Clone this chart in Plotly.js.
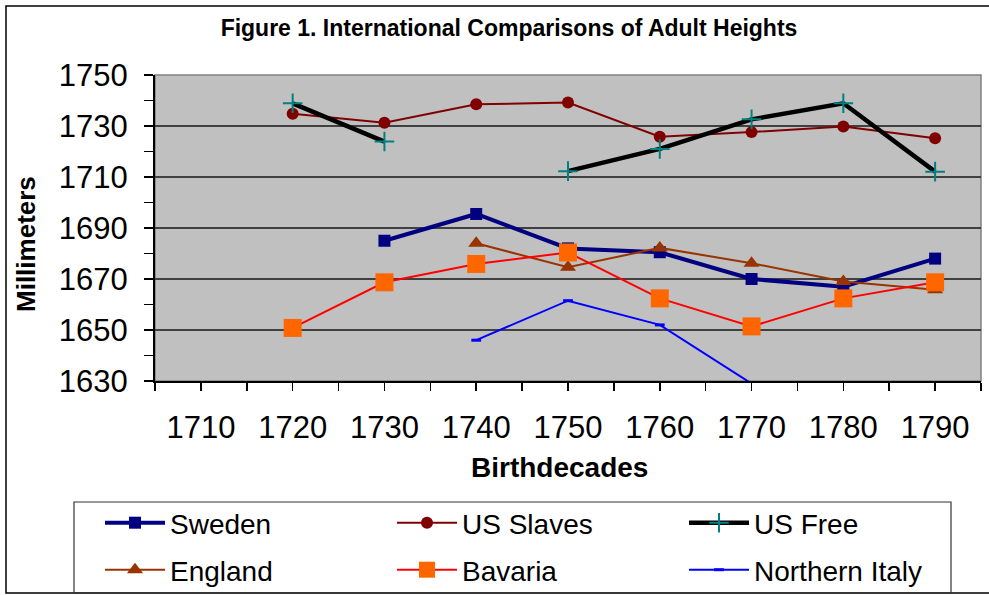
<!DOCTYPE html>
<html>
<head>
<meta charset="utf-8">
<script src="https://cdn.plot.ly/plotly-3.0.1.min.js"></script>
<style>html,body{margin:0;padding:0;background:#fff;}#chart{width:989px;height:595px;}</style>
</head>
<body>
<div id="chart"></div>
<script>
// ---- data ----
const decades = [1720, 1730, 1740, 1750, 1760, 1770, 1780, 1790];
const sweden = [null, 1685, 1695.5, 1682, 1680.5, 1670, 1667, 1678];
const usSlaves = [1734.8, 1731.3, 1738.5, 1739.2, 1725.8, 1727.6, 1729.8, 1725.2];
const usFree = [1738.9, 1723.9, null, 1712.3, 1721, 1732.6, 1738.9, 1712.1];
const england = [null, null, 1684, 1674.6, 1682.2, 1676.2, 1669, 1665.8];
const bavaria = [1650.8, 1668.7, 1675.9, 1680.4, 1662.4, 1651.4, 1662.4, 1668.7];
const northernItaly = [null, null, 1646, 1661.5, 1652, 1629, 1620, null];
const seriesNames = ['Sweden', 'US Slaves', 'US Free', 'England', 'Bavaria', 'Northern Italy'];
const xTickLabels = ['1710', '1720', '1730', '1740', '1750', '1760', '1770', '1780', '1790'];
const yTickLabels = ['1630', '1650', '1670', '1690', '1710', '1730', '1750'];

const FONT = 'Liberation Sans, Arial, sans-serif';

const traces = [
  {name: seriesNames[0], x: decades, y: sweden, legend: 'legend',
   line: {color: '#000080', width: 4}, marker: {symbol: 'square', size: 12, color: '#000080'}},
  {name: seriesNames[1], x: decades, y: usSlaves, legend: 'legend',
   line: {color: '#800000', width: 2}, marker: {symbol: 'circle', size: 12, color: '#800000'}},
  {name: seriesNames[2], x: decades, y: usFree, legend: 'legend',
   line: {color: '#000000', width: 4.5},
   marker: {symbol: 'cross-thin-open', size: 14, color: '#008080', line: {color: '#008080', width: 2}}},
  {name: seriesNames[3], x: decades, y: england, legend: 'legend2',
   line: {color: '#993300', width: 2}, marker: {symbol: 'triangle-up', size: 14, color: '#993300'}},
  {name: seriesNames[4], x: decades, y: bavaria, legend: 'legend2',
   line: {color: '#FF0000', width: 2}, marker: {symbol: 'square', size: 18, color: '#FF6600'}},
  {name: seriesNames[5], x: decades, y: northernItaly, legend: 'legend2',
   line: {color: '#0000FF', width: 2},
   marker: {symbol: 'line-ew-open', size: 7, color: '#0000FF', line: {color: '#0000FF', width: 3}}}
].map(t => Object.assign({type: 'scatter', mode: 'lines+markers', connectgaps: false, cliponaxis: false}, t));

// pixel helpers for decoration placement (plot area: x 155..981, y 75..381)
const FW = 989, FH = 595;
const L = 155, T = 75, W = 826, H = 306;
const px = v => (v - L) / W;
const py = v => (T + H - v) / H;
const cx = v => v / FW;
const cy = v => 1 - v / FH;

const legendCommon = {
  orientation: 'h', xanchor: 'left', yanchor: 'middle',
  font: {family: FONT, size: 28, color: '#000'},
  bgcolor: 'rgba(0,0,0,0)', borderwidth: 0,
  itemwidth: 60, entrywidth: 217, traceorder: 'normal'
};

const layout = {
  width: FW, height: FH,
  margin: {l: L, r: FW - L - W, t: T, b: FH - T - H, pad: 0, autoexpand: false},
  paper_bgcolor: '#ffffff', plot_bgcolor: '#C0C0C0',
  font: {family: FONT, color: '#000'},
  title: {text: 'Figure 1. International Comparisons of Adult Heights',
          font: {family: FONT, size: 23, color: '#000', weight: 'bold'},
          x: cx(509), xanchor: 'center', xref: 'container', y: cy(28), yanchor: 'middle', yref: 'container'},
  xaxis: {
    range: [1705, 1795], tickmode: 'array',
    tickvals: xTickLabels.map(Number), ticktext: xTickLabels,
    ticks: 'outside', ticklen: 8, tickwidth: 1.5, tickcolor: '#000',
    minor: {tickmode: 'linear', tick0: 1705, dtick: 5, ticks: 'outside', ticklen: 8, tickwidth: 1.5, tickcolor: '#000', showgrid: false},
    showgrid: false, zeroline: false,
    showline: true, linecolor: '#000', linewidth: 2,
    tickfont: {family: FONT, size: 31, color: '#000'},
    ticklabelstandoff: 10, fixedrange: true
  },
  yaxis: {
    range: [1630, 1750], tickmode: 'array',
    tickvals: yTickLabels.map(Number), ticktext: yTickLabels,
    ticks: 'outside', ticklen: 9, tickwidth: 1.5, tickcolor: '#000',
    minor: {tickmode: 'linear', tick0: 1630, dtick: 10, ticks: 'outside', ticklen: 9, tickwidth: 1.5, tickcolor: '#000', showgrid: false},
    showgrid: true, gridcolor: '#404040', gridwidth: 1.5, zeroline: false,
    showline: true, linecolor: '#000', linewidth: 2,
    tickfont: {family: FONT, size: 31, color: '#000'},
    ticklabelstandoff: 10, fixedrange: true
  },
  legend: Object.assign({}, legendCommon, {x: px(100), y: py(523)}),
  legend2: Object.assign({}, legendCommon, {x: px(100), y: py(570)}),
  annotations: [
    {text: '<b>Millimeters</b>', xref: 'paper', yref: 'paper', x: px(26), y: py(244),
     xanchor: 'center', yanchor: 'middle', textangle: -90, showarrow: false,
     font: {family: FONT, size: 26, color: '#000'}},
    {text: '<b>Birthdecades</b>', xref: 'paper', yref: 'paper', x: px(559), y: py(468),
     xanchor: 'center', yanchor: 'middle', showarrow: false,
     font: {family: FONT, size: 28, color: '#000'}}
  ],
  shapes: [
    // outer chart frame
    {type: 'rect', xref: 'paper', yref: 'paper', x0: px(6), x1: px(1000), y0: py(593), y1: py(6),
     line: {color: '#000', width: 1.5}, fillcolor: 'rgba(0,0,0,0)', layer: 'below'},
    // legend box
    {type: 'rect', xref: 'paper', yref: 'paper', x0: px(74), x1: px(951), y0: py(593), y1: py(502),
     line: {color: '#333', width: 1.2}, fillcolor: 'rgba(0,0,0,0)', layer: 'below'},
    // plot area border (top/right gray)
    {type: 'rect', xref: 'paper', yref: 'paper', x0: 0, x1: 1, y0: 0, y1: 1,
     line: {color: '#808080', width: 1.5}, fillcolor: 'rgba(0,0,0,0)', layer: 'below'}
  ],
  showlegend: true
};

Plotly.newPlot('chart', traces, layout, {displayModeBar: false, staticPlot: true});
</script>
</body>
</html>
